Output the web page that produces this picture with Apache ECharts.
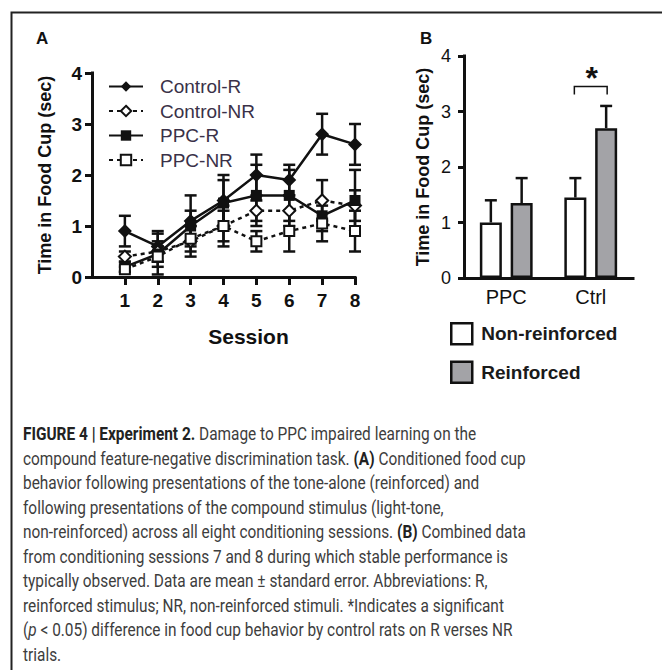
<!DOCTYPE html>
<html>
<head>
<meta charset="utf-8">
<script src="https://cdn.jsdelivr.net/npm/echarts@6/dist/echarts.min.js"></script>
<style>
  html, body { margin: 0; padding: 0; background: #fff; }
  #fig { width: 662px; height: 670px; }
</style>
</head>
<body>
<div id="fig"></div>
<script>
// panel A: mean time in food cup per session (sec), with standard error
var sessions = [1, 2, 3, 4, 5, 6, 7, 8];
var controlR = [0.9, 0.6, 1.1, 1.5, 2.0, 1.9, 2.8, 2.6];
var controlRErr = [0.3, 0.3, 0.5, 0.5, 0.4, 0.3, 0.4, 0.4];
var controlNR = [0.4, 0.5, 0.7, 1.0, 1.3, 1.3, 1.5, 1.4];
var controlNRErr = [0.1, 0.2, 0.3, 0.3, 0.2, 0.3, 0.4, 0.3];
var ppcR = [0.2, 0.45, 1.0, 1.45, 1.6, 1.6, 1.2, 1.5];
var ppcRErr = [0.1, 0.4, 0.3, 0.45, 0.6, 0.5, 0.3, 0.6];
var ppcNR = [0.15, 0.4, 0.75, 1.0, 0.7, 0.9, 1.05, 0.9];
var ppcNRErr = [0.05, 0.2, 0.25, 0.4, 0.2, 0.4, 0.35, 0.4];

// panel B: sessions 7 and 8 combined
var groups = ['PPC', 'Ctrl'];
var nonReinforced = [1.0, 1.45];
var nonReinforcedErr = [0.4, 0.35];
var reinforced = [1.35, 2.7];
var reinforcedErr = [0.45, 0.4];
var sigGroup = 1;      // Ctrl
var sigLevel = 3.45;   // height of the bracket

var captionLines = [
    '{b|FIGURE 4 | Experiment 2.} Damage to PPC impaired learning on the',
    'compound feature-negative discrimination task. {b|(A)} Conditioned food cup',
    'behavior following presentations of the tone-alone (reinforced) and',
    'following presentations of the compound stimulus (light-tone,',
    'non-reinforced) across all eight conditioning sessions. {b|(B)} Combined data',
    'from conditioning sessions 7 and 8 during which stable performance is',
    'typically observed. Data are mean \u00b1 standard error. Abbreviations: R,',
    'reinforced stimulus; NR, non-reinforced stimuli. *Indicates a significant',
    '({i|p} < 0.05) difference in food cup behavior by control rats on R verses NR',
    'trials.'
];

var ink = '#111';
var font = 'Liberation Sans, Arial, sans-serif';
var barW = 22;

function pairs(xs, ys) {
    return xs.map(function (x, i) { return [x, ys[i]]; });
}
function errRows(xs, ys, es, both) {
    return xs.map(function (x, i) { return [x, both ? ys[i] - es[i] : ys[i], ys[i] + es[i]]; });
}

function errorBar(offset, bottomCap) {
    return function (params, api) {
        var x = api.value(0);
        var lo = api.coord([x, api.value(1)]);
        var hi = api.coord([x, api.value(2)]);
        var cx = lo[0] + offset, w = 6;
        var st = {stroke: ink, lineWidth: 2.5};
        var kids = [
            {type: 'line', shape: {x1: cx, y1: lo[1], x2: cx, y2: hi[1]}, style: st},
            {type: 'line', shape: {x1: cx - w, y1: hi[1], x2: cx + w, y2: hi[1]}, style: st}
        ];
        if (bottomCap) {
            kids.push({type: 'line', shape: {x1: cx - w, y1: lo[1], x2: cx + w, y2: lo[1]}, style: st});
        }
        return {type: 'group', children: kids};
    };
}

function lineSeries(name, data, symbol, size, dashed) {
    return {
        name: name, type: 'line', xAxisIndex: 0, yAxisIndex: 0, z: 4,
        data: pairs(sessions, data),
        symbol: symbol, symbolSize: size,
        lineStyle: {color: ink, width: 2.5, type: dashed ? [4, 4] : 'solid'},
        itemStyle: {color: ink, borderColor: ink, borderWidth: dashed ? 2.5 : 0}
    };
}

function errSeries(id, data, err) {
    return {
        name: id, type: 'custom', xAxisIndex: 0, yAxisIndex: 0, z: 3,
        data: errRows(sessions, data, err, true),
        encode: {x: 0, y: [1, 2]},
        renderItem: errorBar(0, true)
    };
}

// caption is set in a condensed face, so squeeze it to the column width
var ctx = document.createElement('canvas').getContext('2d');
ctx.font = '18px Roboto';
var capScale = 502 / ctx.measureText(captionLines[1].replace(/\{b\||\}/g, '')).width;

var captionEls = captionLines.map(function (line, i) {
    return {
        type: 'text', left: 23, top: 425 + i * 24.5,
        scaleX: capScale, originX: 0,
        style: {
            text: line, font: '18px Roboto', fill: '#3d3d3d',
            rich: {
                b: {fontFamily: 'Roboto', fontSize: 18, fontWeight: 'bold', fill: '#222', color: '#222'},
                i: {fontFamily: 'Roboto', fontSize: 18, fontStyle: 'italic', fill: '#3d3d3d', color: '#3d3d3d'}
            }
        }
    };
});

var axisLine = {show: true, lineStyle: {color: ink, width: 3, cap: 'square'}};
var nameStyle = {fontFamily: font, fontSize: 18, fontWeight: 'bold', color: ink};

var option = {
    animation: false,
    textStyle: {fontFamily: font},
    grid: [
        {left: 92, top: 73, width: 263, height: 204},
        {left: 464, top: 56, width: 169, height: 222}
    ],
    legend: [
        {
            data: ['Control-R', 'Control-NR', 'PPC-R', 'PPC-NR'],
            orient: 'vertical', left: 103, top: 72,
            itemWidth: 34, itemHeight: 13, itemGap: 5.5,
            textStyle: {fontSize: 19, color: '#3a3148', lineHeight: 19, padding: [0, 0, 0, 12]}
        },
        {
            data: ['Non-reinforced', 'Reinforced'],
            orient: 'vertical', left: 445, top: 317,
            icon: 'rect', itemWidth: 21, itemHeight: 21, itemGap: 15,
            itemStyle: {borderColor: ink, borderWidth: 2.5},
            textStyle: {fontSize: 19, fontWeight: 'bold', color: '#1a1a1a', padding: [0, 0, 0, 4]}
        }
    ],
    xAxis: [
        {
            gridIndex: 0, type: 'value', min: 0, max: 8, interval: 1,
            axisLine: axisLine,
            axisTick: {show: true, customValues: sessions, length: 8, lineStyle: {color: ink, width: 3}},
            axisLabel: {customValues: sessions, margin: 14, fontSize: 19, fontWeight: 'bold', color: ink,
                formatter: function (v) { return v === 0 ? '' : v; }},
            splitLine: {show: false},
            name: 'Session', nameLocation: 'middle', nameGap: 49,
            nameTextStyle: {fontFamily: font, fontSize: 21, fontWeight: 'bold', color: ink, padding: [0, 0, 0, 50]}
        },
        {
            gridIndex: 1, type: 'category', data: groups,
            axisLine: axisLine, axisTick: {show: false},
            axisLabel: {margin: 9, fontSize: 20, color: ink}
        }
    ],
    yAxis: [
        {
            gridIndex: 0, type: 'value', min: 0, max: 4, interval: 1,
            axisLine: axisLine,
            axisTick: {show: true, length: 7, lineStyle: {color: ink, width: 3}},
            axisLabel: {margin: 10, fontSize: 19, fontWeight: 'bold', color: ink},
            splitLine: {show: false},
            name: 'Time in Food Cup (sec)', nameLocation: 'middle', nameGap: 38, nameTextStyle: nameStyle
        },
        {
            gridIndex: 1, type: 'value', min: 0, max: 4, interval: 1,
            axisLine: axisLine,
            axisTick: {show: true, length: 6, lineStyle: {color: ink, width: 3}},
            axisLabel: {margin: 13, fontSize: 18, color: ink},
            splitLine: {show: false},
            name: 'Time in Food Cup (sec)', nameLocation: 'middle', nameGap: 32, nameTextStyle: nameStyle
        }
    ],
    series: [
        errSeries('err-control-r', controlR, controlRErr),
        errSeries('err-control-nr', controlNR, controlNRErr),
        errSeries('err-ppc-r', ppcR, ppcRErr),
        errSeries('err-ppc-nr', ppcNR, ppcNRErr),
        lineSeries('Control-R', controlR, 'diamond', 14, false),
        lineSeries('Control-NR', controlNR, 'emptyDiamond', 12, true),
        lineSeries('PPC-R', ppcR, 'rect', 11, false),
        lineSeries('PPC-NR', ppcNR, 'emptyRect', 10, true),
        {
            name: 'err-nr', type: 'custom', xAxisIndex: 1, yAxisIndex: 1, z: 1,
            data: errRows([0, 1], nonReinforced, nonReinforcedErr, false),
            encode: {x: 0, y: [1, 2]},
            renderItem: errorBar(-barW * 1.4 / 2, false)
        },
        {
            name: 'err-r', type: 'custom', xAxisIndex: 1, yAxisIndex: 1, z: 1,
            data: errRows([0, 1], reinforced, reinforcedErr, false),
            encode: {x: 0, y: [1, 2]},
            renderItem: errorBar(barW * 1.4 / 2, false)
        },
        {
            name: 'Non-reinforced', type: 'bar', xAxisIndex: 1, yAxisIndex: 1, z: 2,
            data: nonReinforced, barWidth: barW, barGap: '40%',
            itemStyle: {color: '#fff', borderColor: ink, borderWidth: 2.5}
        },
        {
            name: 'Reinforced', type: 'bar', xAxisIndex: 1, yAxisIndex: 1, z: 2,
            data: reinforced, barWidth: barW, barGap: '40%',
            itemStyle: {color: '#a3a3a7', borderColor: ink, borderWidth: 2.5}
        },
        {
            name: 'sig', type: 'custom', xAxisIndex: 1, yAxisIndex: 1, z: 3,
            data: [[sigGroup, sigLevel]],
            renderItem: function (params, api) {
                var p = api.coord([api.value(0), api.value(1)]);
                var half = barW * 1.4 / 2 + 1;
                return {type: 'group', children: [
                    {type: 'polyline', shape: {points: [[p[0] - half, p[1] + 8], [p[0] - half, p[1]], [p[0] + half, p[1]], [p[0] + half, p[1] + 8]]},
                        style: {stroke: ink, lineWidth: 1.5, fill: null}},
                    {type: 'text', x: p[0] + 1, y: p[1] - 25,
                        style: {text: '*', font: 'bold 32px Liberation Sans', fill: ink, align: 'center', verticalAlign: 'top'}}
                ]};
            }
        }
    ],
    graphic: [
        {type: 'rect', left: 9, top: 10, shape: {width: 700, height: 700},
            style: {fill: null, stroke: '#222', lineWidth: 2}, silent: true},
        {type: 'text', left: 36, top: 30, style: {text: 'A', font: 'bold 17px Liberation Sans', fill: ink}},
        {type: 'text', left: 420, top: 30, style: {text: 'B', font: 'bold 17px Liberation Sans', fill: ink}}
    ].concat(captionEls)
};

var chart = echarts.init(document.getElementById('fig'), null, {renderer: 'svg'});
chart.setOption(option);
</script>
</body>
</html>
